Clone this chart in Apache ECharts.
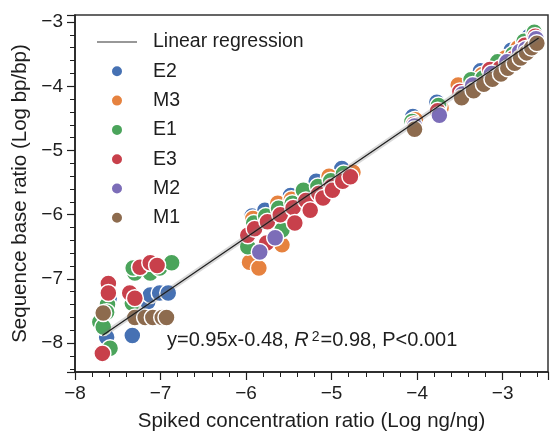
<!DOCTYPE html>
<html>
<head>
<meta charset="utf-8">
<script src="https://cdn.jsdelivr.net/npm/echarts@6/dist/echarts.min.js"></script>
<style>
  html, body { margin: 0; padding: 0; background: #fff; }
  #chart { width: 550px; height: 432px; }
</style>
</head>
<body>
<div id="chart"></div>
<script>
  // legend order (also the drawing order of the scatter groups)
  var seriesNames = ['E2', 'M3', 'E1', 'E3', 'M2', 'M1'];
  var seriesColors = ['#4671b3', '#e6823f', '#4ba45b', '#c8404b', '#7c6db8', '#8d6b4e'];

  // [log spiked ratio, log base ratio]
  var e2Data = [
    [-7.63, -7.91], [-7.60, -7.30], [-7.33, -7.88], [-7.32, -7.28], [-7.15, -7.36],
    [-7.12, -7.25], [-7.01, -7.22], [-6.91, -7.22],
    [-5.93, -6.02], [-5.78, -5.93], [-5.48, -5.70], [-5.18, -5.48], [-4.88, -5.28],
    [-4.05, -4.47], [-3.77, -4.25], [-3.49, -4.02], [-3.26, -3.76], [-3.04, -3.66],
    [-2.90, -3.44], [-2.69, -3.22]
  ];
  var m3Data = [
    [-5.96, -6.74], [-5.85, -6.83], [-5.58, -6.47],
    [-5.92, -6.06], [-5.63, -5.82], [-5.47, -5.76], [-5.03, -5.40], [-4.75, -5.34],
    [-4.02, -4.52], [-3.72, -4.34], [-3.52, -3.98], [-3.24, -3.82], [-2.97, -3.56],
    [-2.82, -3.40], [-2.68, -3.28]
  ];
  var e1Data = [
    [-7.62, -7.40], [-7.63, -7.52], [-7.71, -7.67], [-7.67, -7.75], [-7.59, -8.08],
    [-7.33, -7.38], [-7.30, -6.91], [-7.32, -6.83], [-7.12, -6.91], [-7.01, -6.83],
    [-6.87, -6.75],
    [-5.98, -6.50], [-5.58, -6.24],
    [-5.91, -6.13], [-5.77, -6.02], [-5.62, -5.90], [-5.46, -5.82], [-5.33, -5.62],
    [-5.16, -5.56], [-5.01, -5.47], [-4.86, -5.36],
    [-4.06, -4.55], [-3.75, -4.30], [-3.37, -3.90], [-3.23, -3.87], [-3.06, -3.62],
    [-2.88, -3.50], [-2.75, -3.30], [-2.63, -3.16]
  ];
  var e3Data = [
    [-7.61, -7.07], [-7.61, -7.22], [-7.68, -8.16], [-7.36, -7.22], [-7.30, -7.30],
    [-7.24, -6.82], [-7.12, -6.75], [-7.04, -6.79],
    [-5.98, -6.32], [-5.76, -6.44],
    [-5.90, -6.22], [-5.75, -6.11], [-5.60, -6.00], [-5.45, -5.89], [-5.30, -5.78],
    [-5.15, -5.67], [-5.00, -5.56], [-4.85, -5.45],
    [-5.43, -6.13], [-5.25, -5.93], [-5.10, -5.74], [-4.99, -5.62], [-4.87, -5.48],
    [-4.78, -5.41],
    [-4.04, -4.59], [-3.76, -4.38], [-3.50, -4.08], [-3.15, -3.74], [-3.03, -3.72],
    [-2.87, -3.56], [-2.74, -3.36], [-2.62, -3.22]
  ];
  var m2Data = [
    [-5.84, -6.58], [-5.66, -6.36],
    [-4.03, -4.62], [-3.74, -4.45], [-3.47, -4.12], [-3.35, -3.98], [-3.13, -3.80],
    [-2.95, -3.62], [-2.80, -3.46], [-2.73, -3.42], [-2.61, -3.26]
  ];
  var m1Data = [
    [-7.67, -7.53], [-7.30, -7.60], [-7.18, -7.60], [-7.09, -7.60], [-6.98, -7.60],
    [-6.93, -7.60],
    [-4.03, -4.67], [-3.48, -4.18], [-3.34, -4.07], [-3.22, -3.97], [-3.12, -3.89],
    [-3.02, -3.81], [-2.94, -3.72], [-2.86, -3.64], [-2.79, -3.56], [-2.72, -3.48],
    [-2.66, -3.40], [-2.60, -3.33]
  ];
  var groupData = [e2Data, m3Data, e1Data, e3Data, m2Data, m1Data];

  // fitted line end points as drawn
  var regLine = [[-7.68, -7.88], [-2.58, -3.25]];
  var fitText = ['y=0.95x-0.48, ', 'R', '2', '=0.98, P<0.001'];

  var xName = 'Spiked concentration ratio (Log ng/ng)';
  var yName = 'Sequence base ratio (Log bp/bp)';

  var font = 'Liberation Sans, Arial, sans-serif';
  var ink = '#1e1e1e';
  // thin bar inside a 40x12 box, used as the legend mark of the fit
  var lineIcon = 'path://M0,0h0.1v0.1h-0.1z M0,5.4h40v1.2h-40z M0,11.9h0.1v0.1h-0.1z';

  function tickLabel(v) {
    if (Math.abs(v - Math.round(v)) > 1e-6) return '';
    return String(Math.round(v)).replace('-', '\u2212');
  }

  var chart = echarts.init(document.getElementById('chart'));

  var series = [];
  for (var i = 0; i < seriesNames.length; i++) {
    series.push({
      name: seriesNames[i],
      type: 'scatter',
      symbolSize: 17,
      itemStyle: {
        color: seriesColors[i],
        borderColor: '#fff',
        borderWidth: 1.5,
        opacity: 1
      },
      data: groupData[i]
    });
  }
  // faint confidence band under the fit
  series.push({
    type: 'line',
    silent: true,
    symbol: 'none',
    lineStyle: { color: 'rgba(120,120,120,0.28)', width: 5 },
    data: regLine
  });
  series.push({
    name: 'Linear regression',
    type: 'line',
    symbol: 'none',
    itemStyle: { color: ink },
    lineStyle: { color: ink, width: 1.2 },
    data: regLine
  });

  var legendData = [{ name: 'Linear regression', icon: lineIcon, itemStyle: { color: '#333' } }];
  seriesNames.forEach(function (n) { legendData.push({ name: n, icon: 'circle' }); });

  var option = {
    animation: false,
    backgroundColor: '#fff',
    textStyle: { fontFamily: font },
    grid: {
      left: 75, right: 2, top: 15, bottom: 60,
      outerBoundsMode: 'none',
      show: true, borderColor: '#333', borderWidth: 1.5
    },
    legend: {
      orient: 'vertical',
      left: 92, top: 27,
      itemWidth: 40, itemHeight: 12, itemGap: 9.3,
      data: legendData,
      textStyle: { color: ink, fontSize: 19.5, fontFamily: font, padding: [0, 0, 0, 11] }
    },
    xAxis: {
      type: 'value',
      min: -8, max: -2.47,
      splitNumber: 5,
      name: xName,
      nameLocation: 'middle',
      nameGap: 39,
      nameTextStyle: { color: ink, fontSize: 20.5, fontFamily: font },
      axisLine: { lineStyle: { color: ink, width: 1.5 } },
      axisTick: { show: true, length: 8, lineStyle: { color: ink, width: 1.2 } },
      minorTick: { show: true, splitNumber: 5, length: 5, lineStyle: { color: ink, width: 1 } },
      splitLine: { show: false },
      axisLabel: { color: ink, fontSize: 19, margin: 12, formatter: tickLabel }
    },
    yAxis: {
      type: 'value',
      min: -8.45, max: -2.89,
      splitNumber: 5,
      name: yName,
      nameLocation: 'middle',
      nameGap: 44,
      nameTextStyle: { color: ink, fontSize: 20.5, fontFamily: font },
      axisLine: { show: true, lineStyle: { color: ink, width: 1.5 } },
      axisTick: { show: true, length: 8, lineStyle: { color: ink, width: 1.2 } },
      minorTick: { show: true, splitNumber: 5, length: 5, lineStyle: { color: ink, width: 1 } },
      splitLine: { show: false },
      axisLabel: { color: ink, fontSize: 19, margin: 12, formatter: tickLabel }
    },
    graphic: [{
      type: 'text',
      left: 167, top: 330,
      style: {
        text: '{n|' + fitText[0] + '}{i|' + fitText[1] + '}{s|' + fitText[2] + '}{n|' + fitText[3] + '}',
        rich: {
          n: { fontSize: 20, fontFamily: font, fill: ink },
          i: { fontSize: 20, fontFamily: font, fontStyle: 'italic', fill: ink },
          s: { fontSize: 14, fontFamily: font, fill: ink, verticalAlign: 'top', padding: [0, 1, 0, 3] }
        }
      }
    }],
    series: series
  };

  chart.setOption(option);
</script>
</body>
</html>
